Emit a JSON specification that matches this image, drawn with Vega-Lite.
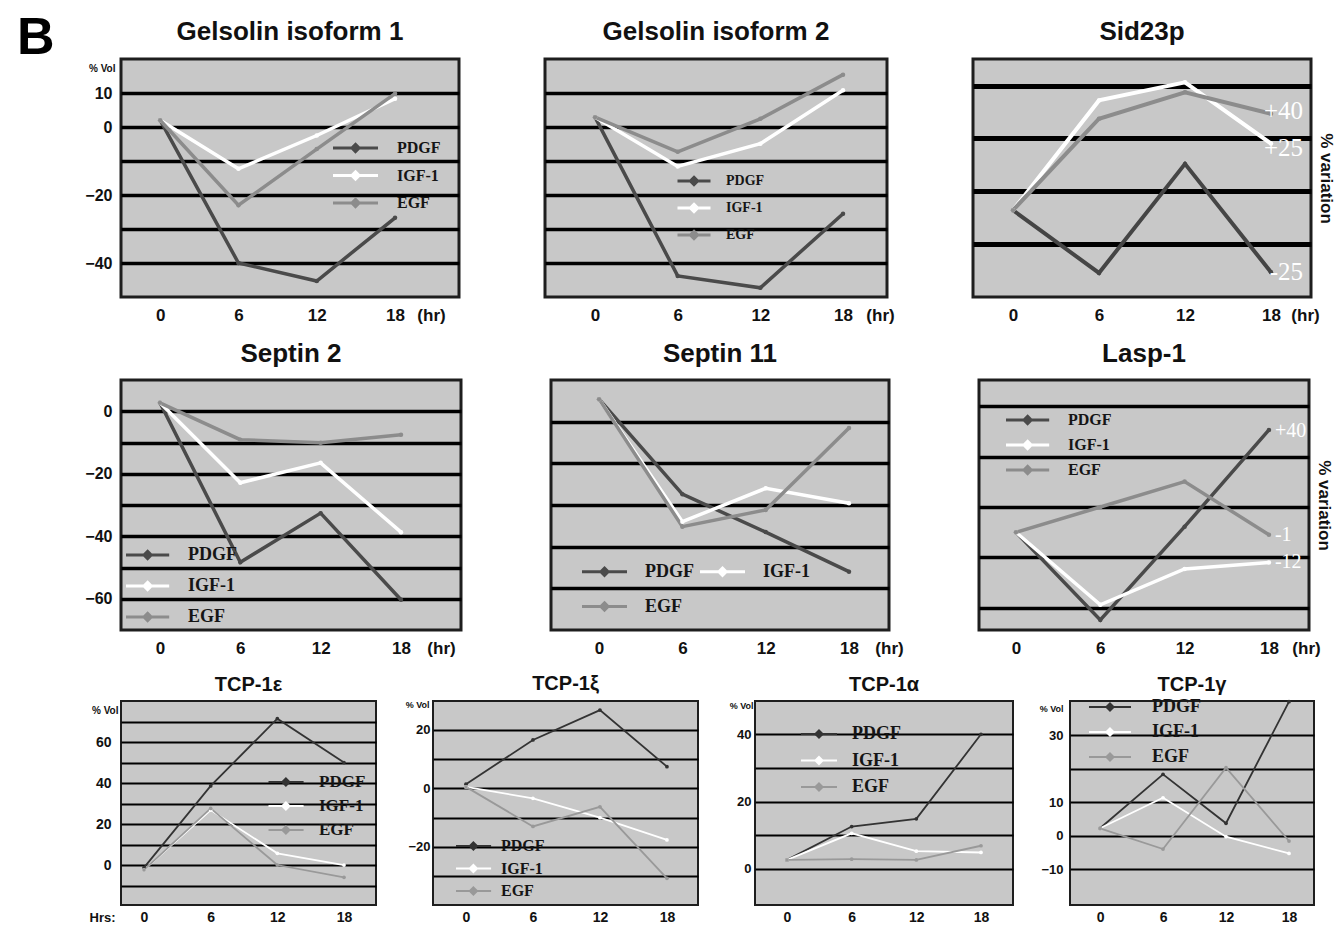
{
"$schema": "https://vega.github.io/schema/vega-lite/v6.json",
"padding": {"left": 17, "top": 12, "right": 2, "bottom": 2},
"background": "white",
"title": {"text": "B", "anchor": "start", "frame": "group", "fontSize": 52, "fontWeight": "bold", "font": "Liberation Sans", "color": "#000000", "dx": -104, "offset": -89, "baseline": "alphabetic"},
"config": {
  "view": {"fill": "#c8c8c8", "stroke": "#1e1e1e", "strokeWidth": 3},
  "font": "Liberation Sans",
  "title": {"font": "Liberation Sans", "fontWeight": "bold", "color": "#111111", "anchor": "middle", "frame": "group", "baseline": "alphabetic"},
  "axis": {"labelFont": "Liberation Sans", "labelFontWeight": "bold", "labelColor": "#111111", "titleFont": "Liberation Sans", "titleFontWeight": "bold", "titleColor": "#111111", "domain": false, "ticks": false, "tickSize": 0, "gridColor": "#000000", "gridOpacity": 1, "gridWidth": 3.5, "labelFlush": false, "labelOverlap": false},
  "axisX": {"grid": false},
  "axisY": {"grid": true},
  "legend": {"labelFont": "Liberation Serif", "labelFontWeight": "bold", "labelColor": "#151515", "symbolStrokeWidth": 3, "symbolSize": 144}
},
"datasets": {
  "gel1": [
    {"hr": 0, "factor": "PDGF", "value": 2}, {"hr": 6, "factor": "PDGF", "value": -40}, {"hr": 12, "factor": "PDGF", "value": -45.3}, {"hr": 18, "factor": "PDGF", "value": -26.7},
    {"hr": 0, "factor": "IGF-1", "value": 2}, {"hr": 6, "factor": "IGF-1", "value": -12.3}, {"hr": 12, "factor": "IGF-1", "value": -2.5}, {"hr": 18, "factor": "IGF-1", "value": 8.3},
    {"hr": 0, "factor": "EGF", "value": 2}, {"hr": 6, "factor": "EGF", "value": -23}, {"hr": 12, "factor": "EGF", "value": -6.5}, {"hr": 18, "factor": "EGF", "value": 9.8}
  ],
  "gel2": [
    {"hr": 0, "factor": "PDGF", "value": 2.9}, {"hr": 6, "factor": "PDGF", "value": -43.8}, {"hr": 12, "factor": "PDGF", "value": -47.3}, {"hr": 18, "factor": "PDGF", "value": -25.5},
    {"hr": 0, "factor": "IGF-1", "value": 2.9}, {"hr": 6, "factor": "IGF-1", "value": -11.6}, {"hr": 12, "factor": "IGF-1", "value": -4.9}, {"hr": 18, "factor": "IGF-1", "value": 10.8},
    {"hr": 0, "factor": "EGF", "value": 2.9}, {"hr": 6, "factor": "EGF", "value": -7.3}, {"hr": 12, "factor": "EGF", "value": 2.4}, {"hr": 18, "factor": "EGF", "value": 15.4}
  ],
  "sid": [
    {"hr": 0, "factor": "PDGF", "value": 0}, {"hr": 6, "factor": "PDGF", "value": -25.3}, {"hr": 12, "factor": "PDGF", "value": 18.7}, {"hr": 18, "factor": "PDGF", "value": -25},
    {"hr": 0, "factor": "IGF-1", "value": 0}, {"hr": 6, "factor": "IGF-1", "value": 44.3}, {"hr": 12, "factor": "IGF-1", "value": 51.6}, {"hr": 18, "factor": "IGF-1", "value": 26.9},
    {"hr": 0, "factor": "EGF", "value": 0}, {"hr": 6, "factor": "EGF", "value": 36.9}, {"hr": 12, "factor": "EGF", "value": 47.6}, {"hr": 18, "factor": "EGF", "value": 38.9}
  ],
  "sidlab": [
    {"hr": 18, "value": 40, "label": "+40"}, {"hr": 18, "value": 25, "label": "+25"}, {"hr": 18, "value": -25, "label": "-25"}
  ],
  "sept2": [
    {"hr": 0, "factor": "PDGF", "value": 2.7}, {"hr": 6, "factor": "PDGF", "value": -48.3}, {"hr": 12, "factor": "PDGF", "value": -32.6}, {"hr": 18, "factor": "PDGF", "value": -60.3},
    {"hr": 0, "factor": "IGF-1", "value": 2.7}, {"hr": 6, "factor": "IGF-1", "value": -22.9}, {"hr": 12, "factor": "IGF-1", "value": -16.5}, {"hr": 18, "factor": "IGF-1", "value": -38.7},
    {"hr": 0, "factor": "EGF", "value": 2.7}, {"hr": 6, "factor": "EGF", "value": -9.1}, {"hr": 12, "factor": "EGF", "value": -10.1}, {"hr": 18, "factor": "EGF", "value": -7.5}
  ],
  "sept11": [
    {"hr": 0, "factor": "PDGF", "value": 5.4}, {"hr": 6, "factor": "PDGF", "value": -17.4}, {"hr": 12, "factor": "PDGF", "value": -26.5}, {"hr": 18, "factor": "PDGF", "value": -36},
    {"hr": 0, "factor": "IGF-1", "value": 5.4}, {"hr": 6, "factor": "IGF-1", "value": -24}, {"hr": 12, "factor": "IGF-1", "value": -16}, {"hr": 18, "factor": "IGF-1", "value": -19.6},
    {"hr": 0, "factor": "EGF", "value": 5.4}, {"hr": 6, "factor": "EGF", "value": -25.2}, {"hr": 12, "factor": "EGF", "value": -21.2}, {"hr": 18, "factor": "EGF", "value": -1.5}
  ],
  "lasp": [
    {"hr": 0, "factor": "PDGF", "value": 0}, {"hr": 6, "factor": "PDGF", "value": -34.8}, {"hr": 12, "factor": "PDGF", "value": 2.2}, {"hr": 18, "factor": "PDGF", "value": 40.6},
    {"hr": 0, "factor": "IGF-1", "value": 0}, {"hr": 6, "factor": "IGF-1", "value": -28.8}, {"hr": 12, "factor": "IGF-1", "value": -14.6}, {"hr": 18, "factor": "IGF-1", "value": -12},
    {"hr": 0, "factor": "EGF", "value": 0}, {"hr": 6, "factor": "EGF", "value": 10}, {"hr": 12, "factor": "EGF", "value": 20.1}, {"hr": 18, "factor": "EGF", "value": -1}
  ],
  "lasplab": [
    {"hr": 18, "value": 40, "label": "+40"}, {"hr": 18, "value": -1, "label": "-1"}, {"hr": 18, "value": -12, "label": "-12"}
  ],
  "tcpe": [
    {"hr": 0, "factor": "PDGF", "value": -1.3}, {"hr": 6, "factor": "PDGF", "value": 38.6}, {"hr": 12, "factor": "PDGF", "value": 71.4}, {"hr": 18, "factor": "PDGF", "value": 50},
    {"hr": 0, "factor": "IGF-1", "value": -2.4}, {"hr": 6, "factor": "IGF-1", "value": 26.8}, {"hr": 12, "factor": "IGF-1", "value": 5.7}, {"hr": 18, "factor": "IGF-1", "value": 0},
    {"hr": 0, "factor": "EGF", "value": -2.4}, {"hr": 6, "factor": "EGF", "value": 27.6}, {"hr": 12, "factor": "EGF", "value": 0}, {"hr": 18, "factor": "EGF", "value": -6}
  ],
  "tcpxi": [
    {"hr": 0, "factor": "PDGF", "value": 1.4}, {"hr": 6, "factor": "PDGF", "value": 16.5}, {"hr": 12, "factor": "PDGF", "value": 26.7}, {"hr": 18, "factor": "PDGF", "value": 7.4},
    {"hr": 0, "factor": "IGF-1", "value": 0.5}, {"hr": 6, "factor": "IGF-1", "value": -3.4}, {"hr": 12, "factor": "IGF-1", "value": -10}, {"hr": 18, "factor": "IGF-1", "value": -17.6},
    {"hr": 0, "factor": "EGF", "value": 0.5}, {"hr": 6, "factor": "EGF", "value": -13}, {"hr": 12, "factor": "EGF", "value": -6.3}, {"hr": 18, "factor": "EGF", "value": -30.7}
  ],
  "tcpa": [
    {"hr": 0, "factor": "PDGF", "value": 2.7}, {"hr": 6, "factor": "PDGF", "value": 12.6}, {"hr": 12, "factor": "PDGF", "value": 14.9}, {"hr": 18, "factor": "PDGF", "value": 40},
    {"hr": 0, "factor": "IGF-1", "value": 2.7}, {"hr": 6, "factor": "IGF-1", "value": 10.6}, {"hr": 12, "factor": "IGF-1", "value": 5.3}, {"hr": 18, "factor": "IGF-1", "value": 4.9},
    {"hr": 0, "factor": "EGF", "value": 2.7}, {"hr": 6, "factor": "EGF", "value": 2.9}, {"hr": 12, "factor": "EGF", "value": 2.7}, {"hr": 18, "factor": "EGF", "value": 6.9}
  ],
  "tcpg": [
    {"hr": 0, "factor": "PDGF", "value": 2.2}, {"hr": 6, "factor": "PDGF", "value": 18.3}, {"hr": 12, "factor": "PDGF", "value": 3.7}, {"hr": 18, "factor": "PDGF", "value": 40},
    {"hr": 0, "factor": "IGF-1", "value": 2.2}, {"hr": 6, "factor": "IGF-1", "value": 11.3}, {"hr": 12, "factor": "IGF-1", "value": -0.3}, {"hr": 18, "factor": "IGF-1", "value": -5.3},
    {"hr": 0, "factor": "EGF", "value": 2.2}, {"hr": 6, "factor": "EGF", "value": -4}, {"hr": 12, "factor": "EGF", "value": 20.3}, {"hr": 18, "factor": "EGF", "value": -1.6}
  ]
},
"spacing": 14,
"resolve": {"scale": {"color": "independent"}, "legend": {"color": "independent"}},
"vconcat": [
 {
  "bounds": "flush",
  "spacing": 86,
  "resolve": {"scale": {"color": "independent"}, "legend": {"color": "independent"}},
  "hconcat": [
   {
    "width": 338, "height": 238,
    "title": {"text": "Gelsolin isoform 1", "fontSize": 26, "offset": 14.5},
    "data": {"name": "gel1"},
    "mark": {"type": "line", "strokeWidth": 3.5, "point": {"filled": true, "size": 20}},
    "encoding": {
      "x": {"field": "hr", "type": "quantitative", "title": "(hr)", "scale": {"domain": [-3, 22.9], "nice": false, "zero": false},
            "axis": {"values": [0, 6, 12, 18], "labelFontSize": 17, "labelPadding": 18, "labelBaseline": "middle", "titleFontSize": 17, "titleX": 310, "titleY": 18, "titleBaseline": "middle", "titleAlign": "center"}},
      "y": {"field": "value", "type": "quantitative", "title": "% Vol", "scale": {"domain": [-50, 20], "nice": false, "zero": false},
            "axis": {"values": [-40, -30, -20, -10, 0, 10], "labelExpr": "datum.value == -30 || datum.value == -10 ? '' : datum.label", "labelFontSize": 16, "labelPadding": 9, "titleAngle": 0, "titleAlign": "right", "titleBaseline": "middle", "titleX": -6, "titleY": 9, "titleFontSize": 10}},
      "color": {"field": "factor", "type": "nominal", "scale": {"domain": ["PDGF", "IGF-1", "EGF"], "range": ["#4a4a4a", "#ffffff", "#8c8c8c"]},
            "legend": {"title": null, "orient": "none", "legendX": 210, "legendY": 81, "symbolType": "M-1,0H6.5M2.75,-0.6L3.35,0L2.75,0.6L2.15,0Z", "labelFontSize": 16, "labelOffset": 50, "rowPadding": 7.5}}
    }
   },
   {
    "width": 342, "height": 238,
    "title": {"text": "Gelsolin isoform 2", "fontSize": 26, "offset": 14.5},
    "data": {"name": "gel2"},
    "mark": {"type": "line", "strokeWidth": 3.5, "point": {"filled": true, "size": 20}},
    "encoding": {
      "x": {"field": "hr", "type": "quantitative", "title": "(hr)", "scale": {"domain": [-3.63, 21.19], "nice": false, "zero": false},
            "axis": {"values": [0, 6, 12, 18], "labelFontSize": 17, "labelPadding": 18, "labelBaseline": "middle", "titleFontSize": 17, "titleX": 335, "titleY": 18, "titleBaseline": "middle", "titleAlign": "center"}},
      "y": {"field": "value", "type": "quantitative", "title": null, "scale": {"domain": [-50, 20], "nice": false, "zero": false},
            "axis": {"values": [-40, -30, -20, -10, 0, 10], "labels": false}},
      "color": {"field": "factor", "type": "nominal", "scale": {"domain": ["PDGF", "IGF-1", "EGF"], "range": ["#4a4a4a", "#ffffff", "#8c8c8c"]},
            "legend": {"title": null, "orient": "none", "legendX": 131, "legendY": 114.5, "symbolType": "M-1,0H4.5M1.75,-0.6L2.35,0L1.75,0.6L1.15,0Z", "labelFontSize": 14, "labelOffset": 35, "rowPadding": 6}}
    }
   },
   {
    "width": 338, "height": 238,
    "title": {"text": "Sid23p", "fontSize": 26, "offset": 14.5},
    "layer": [
     {
      "data": {"name": "sid"},
      "mark": {"type": "line", "strokeWidth": 4, "point": {"filled": true, "size": 20}},
      "encoding": {
        "x": {"field": "hr", "type": "quantitative", "title": "(hr)", "scale": {"domain": [-2.79, 20.79], "nice": false, "zero": false},
              "axis": {"values": [0, 6, 12, 18], "labelFontSize": 17, "labelPadding": 18, "labelBaseline": "middle", "titleFontSize": 17, "titleX": 332, "titleY": 18, "titleBaseline": "middle", "titleAlign": "center"}},
        "y": {"field": "value", "type": "quantitative", "title": "% variation", "scale": {"domain": [-35, 61], "nice": false, "zero": false},
              "axis": {"orient": "right", "values": [-13.7, 7.6, 29, 50], "labels": false, "gridWidth": 5, "titleAngle": 90, "titleFontSize": 17, "titlePadding": 5}},
        "color": {"field": "factor", "type": "nominal", "scale": {"domain": ["PDGF", "IGF-1", "EGF"], "range": ["#454545", "#ffffff", "#8c8c8c"]}, "legend": null}
      }
     },
     {
      "data": {"name": "sidlab"},
      "mark": {"type": "text", "align": "right", "baseline": "middle", "dx": 32, "font": "Liberation Serif", "fontSize": 25, "color": "#ffffff"},
      "encoding": {
        "x": {"field": "hr", "type": "quantitative", "title": "(hr)"},
        "y": {"field": "value", "type": "quantitative", "title": "% variation"},
        "text": {"field": "label"}
      }
     }
    ]
   }
  ]
 },
 {
  "bounds": "flush",
  "spacing": 90,
  "resolve": {"scale": {"color": "independent"}, "legend": {"color": "independent"}},
  "hconcat": [
   {
    "width": 340, "height": 250,
    "title": {"text": "Septin 2", "fontSize": 26, "offset": 13.5},
    "data": {"name": "sept2"},
    "mark": {"type": "line", "strokeWidth": 3.5, "point": {"filled": true, "size": 20}},
    "encoding": {
      "x": {"field": "hr", "type": "quantitative", "title": "(hr)", "scale": {"domain": [-2.91, 22.48], "nice": false, "zero": false},
            "axis": {"values": [0, 6, 12, 18], "labelFontSize": 17, "labelPadding": 18, "labelBaseline": "middle", "titleFontSize": 17, "titleX": 320, "titleY": 18, "titleBaseline": "middle", "titleAlign": "center"}},
      "y": {"field": "value", "type": "quantitative", "title": null, "scale": {"domain": [-70, 10], "nice": false, "zero": false},
            "axis": {"values": [-60, -50, -40, -30, -20, -10, 0], "labelExpr": "datum.value == -50 || datum.value == -30 || datum.value == -10 ? '' : datum.label", "labelFontSize": 16, "labelPadding": 9}},
      "color": {"field": "factor", "type": "nominal", "scale": {"domain": ["PDGF", "IGF-1", "EGF"], "range": ["#4a4a4a", "#ffffff", "#8c8c8c"]},
            "legend": {"title": null, "orient": "none", "legendX": 2, "legendY": 166, "symbolType": "M-1,0H6.2M2.6,-0.6L3.2,0L2.6,0.6L2,0Z", "labelFontSize": 18, "labelOffset": 47, "rowPadding": 11}}
    }
   },
   {
    "width": 338, "height": 250,
    "title": {"text": "Septin 11", "fontSize": 26, "offset": 13.5},
    "data": {"name": "sept11"},
    "mark": {"type": "line", "strokeWidth": 3.5, "point": {"filled": true, "size": 20}},
    "encoding": {
      "x": {"field": "hr", "type": "quantitative", "title": "(hr)", "scale": {"domain": [-3.46, 20.88], "nice": false, "zero": false},
            "axis": {"values": [0, 6, 12, 18], "labelFontSize": 17, "labelPadding": 18, "labelBaseline": "middle", "titleFontSize": 17, "titleX": 338, "titleY": 18, "titleBaseline": "middle", "titleAlign": "center"}},
      "y": {"field": "value", "type": "quantitative", "title": null, "scale": {"domain": [-50, 10], "nice": false, "zero": false},
            "axis": {"values": [-40, -30, -20, -10, 0], "labels": false}},
      "color": {"field": "factor", "type": "nominal", "scale": {"domain": ["PDGF", "EGF", "IGF-1"], "range": ["#4a4a4a", "#8c8c8c", "#ffffff"]},
            "legend": {"title": null, "orient": "none", "legendX": 28, "legendY": 182.5, "columns": 2, "columnPadding": 0, "symbolType": "M-1,0H6.5M2.75,-0.6L3.35,0L2.75,0.6L2.15,0Z", "labelFontSize": 18, "labelOffset": 48, "rowPadding": 15}}
    }
   },
   {
    "width": 330, "height": 250,
    "title": {"text": "Lasp-1", "fontSize": 26, "offset": 13.5},
    "layer": [
     {
      "data": {"name": "lasp"},
      "mark": {"type": "line", "strokeWidth": 3.5, "point": {"filled": true, "size": 20}},
      "encoding": {
        "x": {"field": "hr", "type": "quantitative", "title": "(hr)", "scale": {"domain": [-2.63, 20.85], "nice": false, "zero": false},
              "axis": {"values": [0, 6, 12, 18], "labelFontSize": 17, "labelPadding": 18, "labelBaseline": "middle", "titleFontSize": 17, "titleX": 327, "titleY": 18, "titleBaseline": "middle", "titleAlign": "center"}},
        "y": {"field": "value", "type": "quantitative", "title": "% variation", "scale": {"domain": [-38.8, 60.4], "nice": false, "zero": false},
              "axis": {"orient": "right", "values": [-30, -20, -10, 0, 10, 20, 30, 40, 50], "labels": false, "titleAngle": 90, "titleFontSize": 17, "titlePadding": 5}},
        "color": {"field": "factor", "type": "nominal", "scale": {"domain": ["PDGF", "IGF-1", "EGF"], "range": ["#4a4a4a", "#ffffff", "#8c8c8c"]},
              "legend": {"title": null, "orient": "none", "legendX": 25, "legendY": 32, "symbolType": "M-1,0H6.2M2.6,-0.6L3.2,0L2.6,0.6L2,0Z", "labelFontSize": 16, "labelOffset": 48, "rowPadding": 5}}
      }
     },
     {
      "data": {"name": "lasplab"},
      "mark": {"type": "text", "align": "left", "baseline": "middle", "dx": 6, "font": "Liberation Serif", "fontSize": 20, "color": "#ffffff"},
      "encoding": {
        "x": {"field": "hr", "type": "quantitative", "title": "(hr)"},
        "y": {"field": "value", "type": "quantitative", "title": "% variation"},
        "text": {"field": "label"}
      }
     }
    ]
   }
  ]
 },
 {
  "bounds": "flush",
  "spacing": 57,
  "resolve": {"scale": {"color": "independent"}, "legend": {"color": "independent"}},
  "hconcat": [
   {
    "width": 255, "height": 204,
    "view": {"stroke": "#1e1e1e", "strokeWidth": 2},
    "title": {"text": "TCP-1ε", "fontSize": 20, "offset": 6.5},
    "data": {"name": "tcpe"},
    "mark": {"type": "line", "strokeWidth": 1.8, "point": {"filled": true, "size": 14}},
    "encoding": {
      "x": {"field": "hr", "type": "quantitative", "title": "Hrs:", "scale": {"domain": [-2.07, 20.88], "nice": false, "zero": false},
            "axis": {"values": [0, 6, 12, 18], "labelFontSize": 14, "labelPadding": 12, "labelBaseline": "middle", "titleFontSize": 13, "titleX": -19, "titleY": 12, "titleBaseline": "middle", "titleAlign": "center"}},
      "y": {"field": "value", "type": "quantitative", "title": "% Vol", "scale": {"domain": [-19.5, 80], "nice": false, "zero": false},
            "axis": {"values": [-10, 0, 10, 20, 30, 40, 50, 60, 70], "labelExpr": "datum.value == 0 || datum.value == 20 || datum.value == 40 || datum.value == 60 ? datum.label : ''", "gridWidth": 2, "labelFontSize": 14, "labelPadding": 10, "titleAngle": 0, "titleAlign": "right", "titleBaseline": "middle", "titleX": -3, "titleY": 9, "titleFontSize": 10}},
      "color": {"field": "factor", "type": "nominal", "scale": {"domain": ["PDGF", "IGF-1", "EGF"], "range": ["#333333", "#ffffff", "#999999"]},
            "legend": {"title": null, "orient": "none", "legendX": 145, "legendY": 72.5, "symbolType": "M-1,0H4.85M1.9,-0.6L2.5,0L1.9,0.6L1.3,0Z", "symbolStrokeWidth": 2, "labelFontSize": 17, "labelOffset": 36, "rowPadding": 6}}
    }
   },
   {
    "width": 265, "height": 204,
    "view": {"stroke": "#1e1e1e", "strokeWidth": 2},
    "title": {"text": "TCP-1ξ", "fontSize": 20, "offset": 6.5},
    "data": {"name": "tcpxi"},
    "mark": {"type": "line", "strokeWidth": 1.8, "point": {"filled": true, "size": 14}},
    "encoding": {
      "x": {"field": "hr", "type": "quantitative", "title": null, "scale": {"domain": [-2.95, 20.78], "nice": false, "zero": false},
            "axis": {"values": [0, 6, 12, 18], "labelFontSize": 14, "labelPadding": 12, "labelBaseline": "middle"}},
      "y": {"field": "value", "type": "quantitative", "title": "% Vol", "scale": {"domain": [-39.8, 29.8], "nice": false, "zero": false},
            "axis": {"values": [-30, -20, -10, 0, 10, 20], "labelExpr": "datum.value == -20 || datum.value == 0 || datum.value == 20 ? datum.label : ''", "gridWidth": 2, "labelFontSize": 13, "labelPadding": 3, "titleAngle": 0, "titleAlign": "right", "titleBaseline": "middle", "titleX": -4, "titleY": 3, "titleFontSize": 9}},
      "color": {"field": "factor", "type": "nominal", "scale": {"domain": ["PDGF", "IGF-1", "EGF"], "range": ["#333333", "#ffffff", "#999999"]},
            "legend": {"title": null, "orient": "none", "legendX": 21, "legendY": 137, "symbolType": "M-1,0H4.85M1.9,-0.6L2.5,0L1.9,0.6L1.3,0Z", "symbolStrokeWidth": 2, "labelFontSize": 16, "labelOffset": 31, "rowPadding": 6.5}}
    }
   },
   {
    "width": 258, "height": 204,
    "view": {"stroke": "#1e1e1e", "strokeWidth": 2},
    "title": {"text": "TCP-1α", "fontSize": 20, "offset": 6.5},
    "data": {"name": "tcpa"},
    "mark": {"type": "line", "strokeWidth": 1.8, "point": {"filled": true, "size": 14}},
    "encoding": {
      "x": {"field": "hr", "type": "quantitative", "title": null, "scale": {"domain": [-2.97, 20.97], "nice": false, "zero": false},
            "axis": {"values": [0, 6, 12, 18], "labelFontSize": 14, "labelPadding": 12, "labelBaseline": "middle"}},
      "y": {"field": "value", "type": "quantitative", "title": "% Vol", "scale": {"domain": [-10.7, 49.9], "nice": false, "zero": false},
            "axis": {"values": [0, 10, 20, 30, 40], "labelExpr": "datum.value == 0 || datum.value == 20 || datum.value == 40 ? datum.label : ''", "gridWidth": 2, "labelFontSize": 13, "labelPadding": 4, "titleAngle": 0, "titleAlign": "right", "titleBaseline": "middle", "titleX": -2, "titleY": 4, "titleFontSize": 9}},
      "color": {"field": "factor", "type": "nominal", "scale": {"domain": ["PDGF", "IGF-1", "EGF"], "range": ["#333333", "#ffffff", "#999999"]},
            "legend": {"title": null, "orient": "none", "legendX": 43, "legendY": 24, "symbolType": "M-1,0H5M2,-0.6L2.6,0L2,0.6L1.4,0Z", "symbolStrokeWidth": 2, "labelFontSize": 18, "labelOffset": 36, "rowPadding": 8.5}}
    }
   },
   {
    "width": 244, "height": 204,
    "view": {"stroke": "#1e1e1e", "strokeWidth": 2},
    "title": {"text": "TCP-1γ", "fontSize": 20, "offset": 3.5},
    "data": {"name": "tcpg"},
    "mark": {"type": "line", "strokeWidth": 1.8, "point": {"filled": true, "size": 14}},
    "encoding": {
      "x": {"field": "hr", "type": "quantitative", "title": null, "scale": {"domain": [-2.86, 20.38], "nice": false, "zero": false},
            "axis": {"values": [0, 6, 12, 18], "labelFontSize": 14, "labelPadding": 12, "labelBaseline": "middle"}},
      "y": {"field": "value", "type": "quantitative", "title": "% Vol", "scale": {"domain": [-20.7, 40.2], "nice": false, "zero": false},
            "axis": {"values": [-10, 0, 10, 20, 30], "labelExpr": "datum.value == 20 ? '' : datum.label", "gridWidth": 2, "labelFontSize": 13, "labelPadding": 7, "titleAngle": 0, "titleAlign": "right", "titleBaseline": "middle", "titleX": -7, "titleY": 7, "titleFontSize": 9}},
      "color": {"field": "factor", "type": "nominal", "scale": {"domain": ["PDGF", "IGF-1", "EGF"], "range": ["#333333", "#ffffff", "#999999"]},
            "legend": {"title": null, "orient": "none", "legendX": 16, "legendY": -3, "symbolType": "M-1,0H6M2.5,-0.6L3.1,0L2.5,0.6L1.9,0Z", "symbolStrokeWidth": 2, "labelFontSize": 18, "labelOffset": 48, "rowPadding": 7}}
    }
   }
  ]
 }
]
}
